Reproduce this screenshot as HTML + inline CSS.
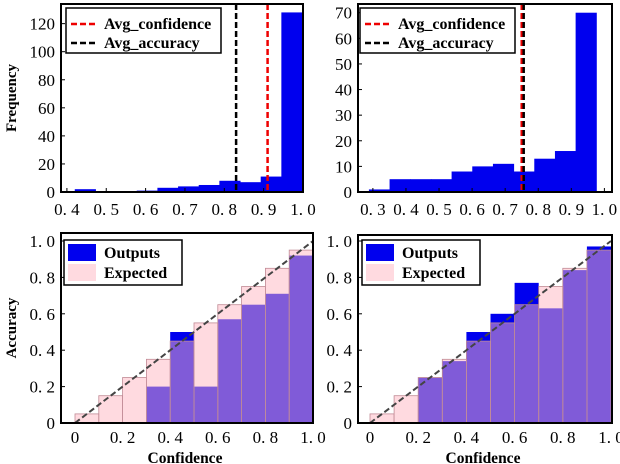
<!DOCTYPE html>
<html><head><meta charset="utf-8"><style>
body{margin:0;background:#fff}
svg{display:block;font-family:"Liberation Serif",serif}
text{font-family:"Liberation Serif",serif}
</style></head><body>
<svg id="c" width="620" height="464" xmlns="http://www.w3.org/2000/svg"></svg>
<script>
// Data
const h1Start = 0.42, h1Width = 0.0525;
const h1Counts = [2, 0, 0, 1, 3, 4, 5, 8, 7, 11, 128];
const h1AvgConf = 0.91, h1AvgAcc = 0.83;
const h1YTicks = [0, 20, 40, 60, 80, 100, 120];
const h1XTicks = [0.4, 0.5, 0.6, 0.7, 0.8, 0.9, 1.0];

const h2Start = 0.288, h2Width = 0.0625;
const h2Counts = [1, 5, 5, 5, 8, 10, 11, 8, 13, 16, 70];
const h2AvgConf = 0.75, h2AvgAcc = 0.756;
const h2YTicks = [0, 10, 20, 30, 40, 50, 60, 70];
const h2XTicks = [0.3, 0.4, 0.5, 0.6, 0.7, 0.8, 0.9, 1.0];

const binCenters = [0.05, 0.15, 0.25, 0.35, 0.45, 0.55, 0.65, 0.75, 0.85, 0.95];
const r1Outputs = [0, 0, 0, 0.2, 0.5, 0.2, 0.57, 0.65, 0.71, 0.92];
const r2Outputs = [0, 0, 0.25, 0.34, 0.5, 0.6, 0.77, 0.63, 0.84, 0.97];
const expectedVals = [0.05, 0.15, 0.25, 0.35, 0.45, 0.55, 0.65, 0.75, 0.85, 0.95];
const relXTicks = [0, 0.2, 0.4, 0.6, 0.8, 1.0];
const relXLabels = ["0", "0. 2", "0. 4", "0. 6", "0. 8", "1. 0"];
const relYTicks = [0, 0.2, 0.4, 0.6, 0.8, 1.0];
const relYLabels = ["0", "0. 2", "0. 4", "0. 6", "0. 8", "1. 0"];

const svg = document.getElementById('c');
const NS = 'http://www.w3.org/2000/svg';
const TF = 17;
function el(tag, attrs, parent) {
  const e = document.createElementNS(NS, tag);
  for (const k in attrs) e.setAttribute(k, attrs[k]);
  (parent || svg).appendChild(e);
  return e;
}
function lin(d0, d1, r0, r1) { return v => r0 + (v - d0) / (d1 - d0) * (r1 - r0); }
function fmt(v) { return v.toFixed(1).replace('.', '. '); }

function hist(p, start, width, counts, conf, acc, yt, xt, xmin, xmax, ymax, ylabel, legX) {
  const x = lin(xmin, xmax, p.l, p.r), y = lin(0, ymax, p.b, p.t);
  const g = el('g', {});
  
  
  counts.forEach((c, i) => {
    const r = el('rect', {x: x(start + i * width), y: y(c), width: x(start + (i + 1) * width) - x(start + i * width) + 0.5, height: y(0) - y(c), fill: '#0000ee'}, g);
    
    
  });
  const lc = el('line', {x1: x(conf), x2: x(conf), y1: p.t, y2: p.b, stroke: '#ee0000', 'stroke-width': 2.5, 'stroke-dasharray': '6,3'}, g);
  
  
  const la = el('line', {x1: x(acc), x2: x(acc), y1: p.t, y2: p.b, stroke: '#000', 'stroke-width': 2.5, 'stroke-dasharray': '6,3'}, g);
  
  
  el('rect', {x: p.l, y: p.t, width: p.r - p.l, height: p.b - p.t, fill: 'none', stroke: '#000', 'stroke-width': 2}, g);
  yt.forEach(v => {
    el('line', {x1: p.l, x2: p.l + 4, y1: y(v), y2: y(v), stroke: '#000'}, g);
    const t = el('text', {x: p.l - 6, y: y(v) + 6, 'text-anchor': 'end', 'font-size': TF}, g);
    t.textContent = v;
    
    
  });
  xt.forEach(v => {
    el('line', {x1: x(v), x2: x(v), y1: p.b, y2: p.b - 4, stroke: '#000'}, g);
    const t = el('text', {x: x(v), y: p.b + 23, 'text-anchor': 'middle', 'font-size': TF}, g);
    t.textContent = fmt(v);
    
    
  });
  if (ylabel) {
    const t = el('text', {x: 0, y: 0, transform: `translate(16,${(p.t + p.b) / 2}) rotate(-90)`, 'text-anchor': 'middle', 'font-size': 15, 'font-weight': 'bold'}, g);
    t.textContent = ylabel;
    
    
  }
  const lg = el('g', {}, g);
  
  
  el('rect', {x: legX, y: 8, width: 155, height: 45, fill: '#fff', stroke: '#000', 'stroke-width': 1.5}, lg);
  el('line', {x1: legX + 5, x2: legX + 32, y1: 24, y2: 24, stroke: '#ee0000', 'stroke-width': 2.5, 'stroke-dasharray': '6,3'}, lg);
  el('line', {x1: legX + 5, x2: legX + 32, y1: 43, y2: 43, stroke: '#000', 'stroke-width': 2.5, 'stroke-dasharray': '6,3'}, lg);
  const t1 = el('text', {x: legX + 38, y: 29, 'font-size': 16, 'font-weight': 'bold'}, lg);
  t1.textContent = 'Avg_confidence';
  
  
  const t2 = el('text', {x: legX + 38, y: 48, 'font-size': 16, 'font-weight': 'bold'}, lg);
  t2.textContent = 'Avg_accuracy';
  
  
}

function rel(p, x0, x1, outs, ylabel, legX) {
  const x = lin(0, 1, x0, x1), y = lin(0, 1, p.b, 241);
  const g = el('g', {});
  
  
  binCenters.forEach((c, i) => {
    const r = el('rect', {x: x(c - 0.05), y: y(outs[i]), width: x(c + 0.05) - x(c - 0.05), height: y(0) - y(outs[i]), fill: '#0000ee'}, g);
    
    
  });
  binCenters.forEach((c, i) => {
    const r = el('rect', {x: x(c - 0.05), y: y(expectedVals[i]), width: x(c + 0.05) - x(c - 0.05), height: y(0) - y(expectedVals[i]), fill: 'rgba(255,182,193,0.5)', stroke: '#c08a95', 'stroke-width': 0.8}, g);
    
    
  });
  const d = el('line', {x1: x(0), y1: y(0), x2: x(1), y2: y(1), stroke: '#444', 'stroke-width': 2, 'stroke-dasharray': '6,3'}, g);
  
  
  el('rect', {x: p.l, y: p.t, width: p.r - p.l, height: p.b - p.t, fill: 'none', stroke: '#000', 'stroke-width': 2}, g);
  relYTicks.forEach((v, i) => {
    el('line', {x1: p.l, x2: p.l + 4, y1: y(v), y2: y(v), stroke: '#000'}, g);
    const t = el('text', {x: p.l - 6, y: y(v) + 6, 'text-anchor': 'end', 'font-size': TF}, g);
    t.textContent = relYLabels[i];
    
    
  });
  relXTicks.forEach((v, i) => {
    const t = el('text', {x: x(v), y: p.b + 20, 'text-anchor': 'middle', 'font-size': TF}, g);
    t.textContent = relXLabels[i];
    
    
  });
  const xt = el('text', {x: (p.l + p.r) / 2 - 2, y: 463, 'text-anchor': 'middle', 'font-size': 15.5, 'font-weight': 'bold'}, g);
  xt.textContent = 'Confidence';
  
  
  if (ylabel) {
    const t = el('text', {x: 0, y: 0, transform: `translate(16,${(p.t + p.b) / 2}) rotate(-90)`, 'text-anchor': 'middle', 'font-size': 15, 'font-weight': 'bold'}, g);
    t.textContent = ylabel;
    
    
  }
  const lg = el('g', {}, g);
  
  
  el('rect', {x: legX, y: 240, width: 118, height: 45, fill: '#fff', stroke: '#000', 'stroke-width': 1.5}, lg);
  el('rect', {x: legX + 4, y: 244, width: 28, height: 17, fill: '#0000ee'}, lg);
  el('rect', {x: legX + 4, y: 264, width: 28, height: 17, fill: 'rgba(255,182,193,0.5)'}, lg);
  const t1 = el('text', {x: legX + 40, y: 258, 'font-size': 16, 'font-weight': 'bold'}, lg);
  t1.textContent = 'Outputs';
  
  
  const t2 = el('text', {x: legX + 40, y: 278, 'font-size': 16, 'font-weight': 'bold'}, lg);
  t2.textContent = 'Expected';
  
  
}

hist({name: 'confidence-histogram-left', l: 61, r: 303, t: 4, b: 192}, h1Start, h1Width, h1Counts, h1AvgConf, h1AvgAcc, h1YTicks, h1XTicks, 0.385, 1.0, 134, 'Frequency', 66);
hist({name: 'confidence-histogram-right', l: 358, r: 612, t: 4, b: 192}, h2Start, h2Width, h2Counts, h2AvgConf, h2AvgAcc, h2YTicks, h2XTicks, 0.255, 1.023, 73.4, '', 360);
rel({name: 'reliability-diagram-left', l: 61, r: 313, t: 233, b: 423}, 75, 313, r1Outputs, 'Accuracy', 64);
rel({name: 'reliability-diagram-right', l: 358, r: 612, t: 235, b: 423}, 370, 611, r2Outputs, '', 362);
</script>
</body></html>
